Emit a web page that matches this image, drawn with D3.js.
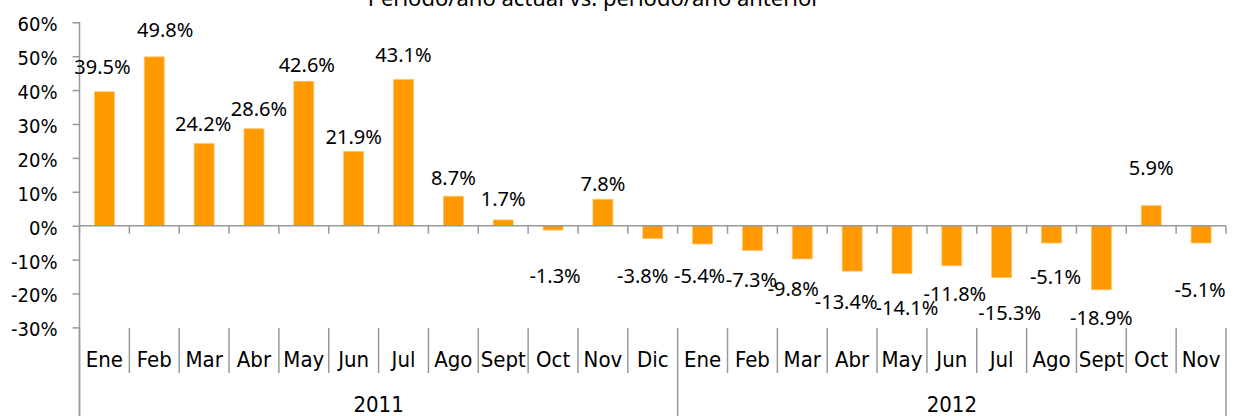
<!DOCTYPE html>
<html>
<head>
<meta charset="utf-8">
<script src="https://cdn.jsdelivr.net/npm/d3@7"></script>
<style>
  html, body { margin: 0; padding: 0; background: #fff; }
  svg { display: block; }
  .cond { font-family: "DejaVu Sans Condensed", "DejaVu Sans", sans-serif; font-stretch: condensed; }
  .lbl { font-family: "Noto Sans", "Open Sans", sans-serif; }
</style>
</head>
<body>
<div id="chart"></div>
<script>
// categories (months), grouped by year
var months = ["Ene", "Feb", "Mar", "Abr", "May", "Jun", "Jul", "Ago", "Sept", "Oct", "Nov", "Dic",
              "Ene", "Feb", "Mar", "Abr", "May", "Jun", "Jul", "Ago", "Sept", "Oct", "Nov"];
var years = ["2011", "2012"];
var monthsPerYear = [12, 11];

// variation vs same period previous year (%)
var values = [39.5, 49.8, 24.2, 28.6, 42.6, 21.9, 43.1, 8.7, 1.7, -1.3, 7.8, -3.8,
              -5.4, -7.3, -9.8, -13.4, -14.1, -11.8, -15.3, -5.1, -18.9, 5.9, -5.1];

var yTicks = [-30, -20, -10, 0, 10, 20, 30, 40, 50, 60];

var title = "Periodo/año actual vs. periodo/año anterior";

// hand placed data labels in the original: distance from the bar end and sideways nudge (px)
var labelGap = [25, 27, 20, 20, 16, 15, 25, 18, 21, 46, 15, 37, 32, 29, 30, 31, 34, 28, 35, 34, 28, 38, 47];
var labelDx = [-2, 11, -1, 5, 3, 0, 0, 0, 0, 2, 0, -10, -3, -1, -9, -6, 5, 3, 8, 4, 0, 0, -1];

var width = 1234;
var height = 416;
var left = 79.5, right = 1226;
var axisColor = "#999";
var barColor = "#ff9900";

var svg = d3.select("#chart").append("svg")
  .attr("width", width)
  .attr("height", height);

var x = d3.scaleBand()
  .domain(d3.range(months.length))
  .range([left, right])
  .paddingInner(0.6)
  .paddingOuter(0.3);

var y = d3.scaleLinear()
  .domain([-30, 60])
  .range([327.4, 22.3]);

var step = x.step();
function edge(i) { return left + i * step; }

// title (cut at the top in the original)
svg.append("text")
  .attr("class", "lbl")
  .attr("x", 594)
  .attr("y", 6)
  .attr("text-anchor", "middle")
  .attr("font-size", 22)
  .attr("fill", "#000")
  .text(title);

// y axis
var yAxis = svg.append("g")
  .attr("transform", "translate(" + left + ",0)")
  .call(d3.axisLeft(y).tickValues(yTicks).tickSize(7).tickPadding(15)
    .tickFormat(function(d) { return d + "%"; }));
yAxis.select(".domain").remove();
yAxis.selectAll(".tick line").attr("stroke", axisColor).attr("stroke-width", 1.5);
yAxis.selectAll(".tick text")
  .attr("class", "cond")
  .attr("font-size", 20)
  .attr("fill", "#000")
  .attr("dy", "0.42em");

// bars
svg.selectAll("rect.bar")
  .data(values)
  .enter().append("rect")
  .attr("class", "bar")
  .attr("x", function(d, i) { return x(i); })
  .attr("width", x.bandwidth())
  .attr("y", function(d) { return y(Math.max(0, d)); })
  .attr("height", function(d) { return Math.abs(y(d) - y(0)); })
  .attr("fill", barColor)
  .attr("stroke", "#ffc266")
  .attr("stroke-width", 0.8);

// zero line and category ticks
svg.append("line")
  .attr("x1", left).attr("x2", right)
  .attr("y1", y(0)).attr("y2", y(0))
  .attr("stroke", axisColor).attr("stroke-width", 1.5);

svg.selectAll("line.ctick")
  .data(d3.range(months.length + 1))
  .enter().append("line")
  .attr("class", "ctick")
  .attr("x1", function(i) { return edge(i); })
  .attr("x2", function(i) { return edge(i); })
  .attr("y1", y(0))
  .attr("y2", y(0) + 8)
  .attr("stroke", axisColor).attr("stroke-width", 1.5);

// left axis line, down to the bottom of the category area
svg.append("line")
  .attr("x1", left).attr("x2", left)
  .attr("y1", y(60)).attr("y2", height)
  .attr("stroke", axisColor).attr("stroke-width", 1.5);

// year boundaries
var yearStarts = [0];
monthsPerYear.forEach(function(n, k) { yearStarts.push(yearStarts[k] + n); });

// month separators in the label area
svg.selectAll("line.msep")
  .data(d3.range(months.length + 1))
  .enter().append("line")
  .attr("class", "msep")
  .attr("x1", function(i) { return edge(i); })
  .attr("x2", function(i) { return edge(i); })
  .attr("y1", 328)
  .attr("y2", function(i) { return yearStarts.indexOf(i) >= 0 ? height : 373; })
  .attr("stroke", axisColor).attr("stroke-width", 1.5);

// month labels
svg.selectAll("text.month")
  .data(months)
  .enter().append("text")
  .attr("class", "month cond")
  .attr("x", function(d, i) { return x(i) + x.bandwidth() / 2; })
  .attr("y", 367)
  .attr("text-anchor", "middle")
  .attr("font-size", 22)
  .attr("fill", "#000")
  .text(function(d) { return d; });

// year labels
svg.selectAll("text.year")
  .data(years)
  .enter().append("text")
  .attr("class", "year cond")
  .attr("x", function(d, k) { return (edge(yearStarts[k]) + edge(yearStarts[k + 1])) / 2; })
  .attr("y", 412)
  .attr("text-anchor", "middle")
  .attr("font-size", 22)
  .attr("fill", "#000")
  .text(function(d) { return d; });

// data labels
svg.selectAll("text.val")
  .data(values)
  .enter().append("text")
  .attr("class", "val lbl")
  .attr("x", function(d, i) { return x(i) + x.bandwidth() / 2 + labelDx[i]; })
  .attr("y", function(d, i) {
    return d >= 0 ? y(d) - labelGap[i] : y(d) + labelGap[i];
  })
  .attr("dy", "0.36em")
  .attr("text-anchor", "middle")
  .attr("font-size", 20)
  .attr("fill", "#000")
  .text(function(d) { return d.toFixed(1) + "%"; });
</script>
</body>
</html>
